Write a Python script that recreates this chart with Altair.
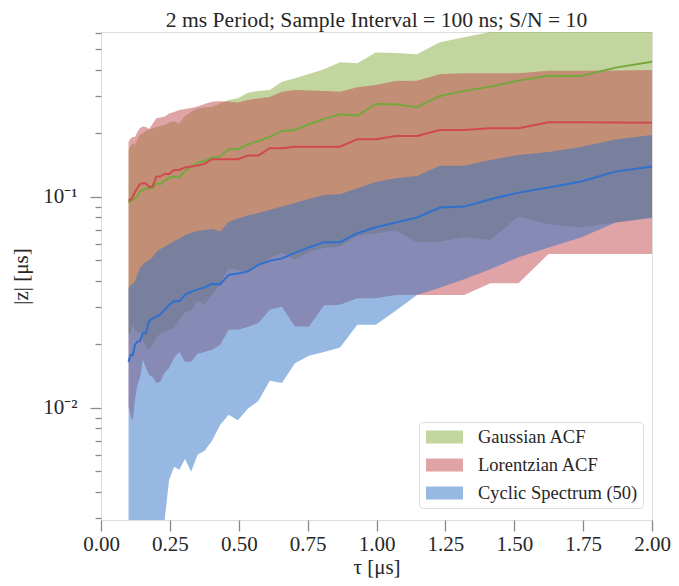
import altair as alt
import pandas as pd

SERIES = ["Gaussian ACF", "Lorentzian ACF", "Cyclic Spectrum (50)"]
FILL_COLORS = ["#85ab3d", "#c1474d", "#2f71c5"]
LINE_COLORS = ["#74a83c", "#d04a4c", "#2f6fce"]
TITLE = "2 ms Period; Sample Interval = 100 ns; S/N = 10"

tau = [0.1000, 0.1072, 0.1150, 0.1233, 0.1321, 0.1417, 0.1519, 0.1629, 0.1746, 0.1872,
       0.2008, 0.2152, 0.2308, 0.2474, 0.2653, 0.2845, 0.3050, 0.3270, 0.3506, 0.3759,
       0.4031, 0.4322, 0.4634, 0.4968, 0.5327, 0.5711, 0.6124, 0.6566, 0.7040, 0.7548,
       0.8093, 0.8677, 0.9303, 0.9975, 1.0695, 1.1467, 1.2295, 1.3182, 1.4134, 1.5154,
       1.6248, 1.7421, 1.8679, 2.0000]

gauss_med = [0.0940, 0.0957, 0.0968, 0.0984, 0.1011, 0.1060, 0.1079, 0.1100, 0.1100, 0.1100,
             0.1161, 0.1149, 0.1191, 0.1237, 0.1248, 0.1235, 0.1328, 0.1388, 0.1454, 0.1481,
             0.1536, 0.1556, 0.1683, 0.1683, 0.1774, 0.1842, 0.1925, 0.2055, 0.2077, 0.2211,
             0.2343, 0.2466, 0.2429, 0.2759, 0.2750, 0.2661, 0.3011, 0.3181, 0.3333, 0.3558,
             0.3757, 0.3745, 0.4101, 0.4377]
gauss_hi = [0.1670, 0.1745, 0.1797, 0.1764, 0.1883, 0.1967, 0.2004, 0.2055, 0.2088, 0.2116,
            0.2147, 0.2170, 0.2194, 0.2255, 0.2275, 0.2235, 0.2420, 0.2528, 0.2633, 0.2656,
            0.2679, 0.2774, 0.2882, 0.2936, 0.3121, 0.3181, 0.3215, 0.3519, 0.3652, 0.3827,
            0.4029, 0.4349, 0.4301, 0.4839, 0.4813, 0.4745, 0.5410, 0.5713, 0.6072, 0.6400,
            0.6600, 0.6800, 0.7000, 0.7200]
gauss_lo = [0.02218, 0.02267, 0.02474, 0.02343, 0.02267, 0.02267, 0.02100, 0.01925, 0.01883, 0.01988,
            0.02147, 0.02243, 0.02292, 0.02343, 0.02394, 0.02613, 0.02851, 0.02883, 0.03214, 0.03078,
            0.03431, 0.03870, 0.04608, 0.04508, 0.04426, 0.04710, 0.05140, 0.05429, 0.05029, 0.05487,
            0.05730, 0.05813, 0.06532, 0.06730, 0.06922, 0.06072, 0.06140, 0.06442, 0.06255, 0.08064,
            0.07425, 0.07154, 0.07572, 0.08000]

lor_med = [0.0968, 0.0968, 0.1000, 0.1056, 0.1103, 0.1152, 0.1161, 0.1159, 0.1115, 0.1119,
           0.1248, 0.1248, 0.1285, 0.1285, 0.1343, 0.1343, 0.1380, 0.1395, 0.1410, 0.1434,
           0.1509, 0.1509, 0.1509, 0.1509, 0.1570, 0.1570, 0.1701, 0.1701, 0.1731, 0.1731,
           0.1731, 0.1731, 0.1877, 0.1875, 0.1946, 0.1946, 0.2077, 0.2077, 0.2116, 0.2116,
           0.2259, 0.2259, 0.2254, 0.2247]
lor_hi = [0.1822, 0.1893, 0.1925, 0.1925, 0.2033, 0.2123, 0.2154, 0.2147, 0.2100, 0.2218,
          0.2360, 0.2381, 0.2402, 0.2487, 0.2528, 0.2584, 0.2613, 0.2641, 0.2685, 0.2759,
          0.2829, 0.2842, 0.2835, 0.2804, 0.2882, 0.2930, 0.2978, 0.3155, 0.3208, 0.3197,
          0.3181, 0.3155, 0.3311, 0.3395, 0.3546, 0.3558, 0.3815, 0.3857, 0.3857, 0.3857,
          0.3968, 0.3968, 0.3977, 0.3998]
lor_lo = [0.01014, 0.00927, 0.00861, 0.01091, 0.01285, 0.01388, 0.01689, 0.01547, 0.01433, 0.01403,
          0.01313, 0.01328, 0.01465, 0.01547, 0.01726, 0.01842, 0.01652, 0.01652, 0.01803, 0.01842,
          0.01883, 0.01988, 0.02343, 0.02343, 0.02420, 0.02528, 0.02914, 0.03011, 0.02428, 0.02428,
          0.03053, 0.03078, 0.03311, 0.03311, 0.03431, 0.03431, 0.03431, 0.03431, 0.03899, 0.03899,
          0.05369, 0.05369, 0.05369, 0.05369]

cyc_med = [0.01652, 0.01783, 0.01773, 0.01988, 0.02062, 0.02077, 0.02259, 0.02267, 0.02584, 0.02655,
           0.02699, 0.02773, 0.02914, 0.03078, 0.03214, 0.03206, 0.03431, 0.03546, 0.03644, 0.03725,
           0.03870, 0.03850, 0.04269, 0.04339, 0.04435, 0.04763, 0.04975, 0.05112, 0.05429, 0.05762,
           0.06099, 0.06099, 0.06730, 0.07186, 0.07556, 0.07977, 0.08898, 0.08995, 0.09752, 0.10480,
           0.11070, 0.11840, 0.13180, 0.13920]
cyc_hi = [0.03705, 0.03787, 0.03870, 0.03956, 0.04269, 0.04608, 0.04763, 0.04920, 0.05029, 0.05195,
          0.05487, 0.05669, 0.05794, 0.05988, 0.06187, 0.06357, 0.06604, 0.06750, 0.06899, 0.06975,
          0.07051, 0.06861, 0.07613, 0.07907, 0.08172, 0.08399, 0.08680, 0.08995, 0.09367, 0.09784,
          0.10220, 0.10300, 0.11000, 0.11780, 0.12260, 0.12580, 0.14070, 0.14070, 0.14970, 0.15820,
          0.16340, 0.17260, 0.18730, 0.19670]
cyc_lo = [0.00150, 0.00150, 0.00150, 0.00150, 0.00150, 0.00150, 0.00150, 0.00150, 0.00150, 0.00150,
          0.00150, 0.00150, 0.00279, 0.004558, 0.005253, 0.005083, 0.005731, 0.004975, 0.005988, 0.006255,
          0.00698, 0.00830, 0.009265, 0.008725, 0.009892, 0.01079, 0.01343, 0.01310, 0.01628, 0.01764,
          0.01842, 0.01935, 0.02474, 0.02474, 0.02883, 0.03431, 0.03705, 0.04074, 0.04544, 0.05178,
          0.05749, 0.06414, 0.07556, 0.07950]

y_ticks = [0.003, 0.004, 0.005, 0.006, 0.007, 0.008, 0.009, 0.01,
           0.02, 0.03, 0.04, 0.05, 0.06, 0.07, 0.08, 0.09, 0.1,
           0.2, 0.3, 0.4, 0.5, 0.6]
x_ticks = [0.0, 0.25, 0.5, 0.75, 1.0, 1.25, 1.5, 1.75, 2.0]

rows = []
for name, med, lo, hi in zip(SERIES, [gauss_med, lor_med, cyc_med],
                             [gauss_lo, lor_lo, cyc_lo], [gauss_hi, lor_hi, cyc_hi]):
    for t, m, l, h in zip(tau, med, lo, hi):
        rows.append({"tau": t, "med": m, "lo": l, "hi": h, "series": name})
df = pd.DataFrame(rows)

FONT = "Liberation Serif"
TXT = "#262626"
GRAY = "#858a91"
W, H = 551, 488

xscale = alt.Scale(domain=[0, 2.0], nice=False, zero=False)
yscale = alt.Scale(type="log", domain=[0.00294, 0.605], nice=False, clamp=True)

x_enc = alt.X("tau:Q", scale=xscale, title="τ [μs]",
              axis=alt.Axis(values=x_ticks, format=".2f", labelFont=FONT, labelFontSize=21,
                            labelColor=TXT, titleFont=FONT, titleFontSize=21, titleColor=TXT,
                            titleFontWeight="normal", tickSize=11, tickColor=GRAY, tickWidth=1.3,
                            labelPadding=2.5, titleBaseline="alphabetic", titleY=53.5,
                            domain=False, grid=False, labelFlush=False, labelOverlap=False))
y_axis = alt.Axis(values=y_ticks,
                  labelExpr="datum.value == 0.1 ? '10⁻¹' : (datum.value == 0.01 ? '10⁻²' : '')",
                  labelFont=FONT, labelFontSize=21, labelColor=TXT,
                  titleFont=FONT, titleFontSize=21, titleColor=TXT, titleFontWeight="normal",
                  tickSize={"condition": {"test": "datum.value == 0.1 || datum.value == 0.01", "value": 11}, "value": 6},
                  tickColor=GRAY, tickWidth=1.3, labelPadding=13, titlePadding=11,
                  domain=False, grid=False, labelFlush=False, labelOverlap=False)

base = alt.Chart(df)

color_scale = alt.Scale(domain=SERIES, range=FILL_COLORS)
legend = alt.Legend(title=None, orient="none", legendX=318, legendY=390,
                    labelFont=FONT, labelFontSize=18.5, labelColor=TXT, labelLimit=400,
                    symbolType="M-0.8,-0.65L2.9,-0.65L2.9,0.65L-0.8,0.65Z",
                    symbolSize=400, symbolOpacity=0.5, symbolStrokeWidth=0,
                    labelOffset=34, rowPadding=8, padding=5,
                    fillColor="rgba(255,255,255,0.8)", strokeColor="#dcdcdc",
                    cornerRadius=4)

layers = []
for name in SERIES:
    layers.append(
        base.transform_filter(alt.datum.series == name)
        .mark_area(clip=True, opacity=0.5, interpolate="linear")
        .encode(x=x_enc,
                y=alt.Y("lo:Q", scale=yscale, title="|z| [μs]", axis=y_axis),
                y2="hi:Q",
                color=alt.Color("series:N", scale=color_scale, legend=legend))
    )
for name, lc in zip(SERIES, LINE_COLORS):
    layers.append(
        base.transform_filter(alt.datum.series == name)
        .mark_line(clip=True, color=lc, strokeWidth=2)
        .encode(x=x_enc, y=alt.Y("med:Q", scale=yscale))
    )

title_df = pd.DataFrame({"label": [TITLE]})
layers.append(
    alt.Chart(title_df).mark_text(font=FONT, fontSize=21.6, color=TXT, align="center",
                                  baseline="alphabetic")
    .encode(text="label:N", x=alt.value(W / 2), y=alt.value(-4.6))
)

chart = alt.layer(*layers).properties(
    width=W, height=H,
    autosize=alt.AutoSizeParams(type="none"),
    padding={"left": 93, "top": 24, "right": 19, "bottom": 58},
).configure_view(stroke=GRAY, strokeWidth=1.3).configure(background="white")

chart.save("out.html", embed_options={"renderer": "svg", "actions": False})
